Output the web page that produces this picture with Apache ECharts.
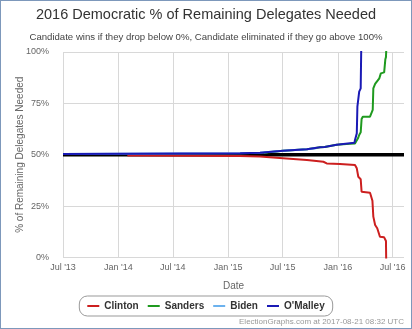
<!DOCTYPE html>
<html>
<head>
<meta charset="utf-8">
<script src="https://cdn.jsdelivr.net/npm/echarts@6/dist/echarts.min.js"></script>
<style>
html,body{margin:0;padding:0;background:#fff;}
#wrap{position:relative;width:412px;height:329px;}
#chart{position:absolute;left:0;top:0;width:412px;height:329px;}
#frame{position:absolute;left:0;top:0;width:410px;height:327px;border:1px solid #7d98bb;pointer-events:none;}
</style>
</head>
<body>
<div id="wrap"><div id="chart"></div><div id="frame"></div></div>
<script>
var titleText = '2016 Democratic % of Remaining Delegates Needed';
var subtitleText = 'Candidate wins if they drop below 0%, Candidate eliminated if they go above 100%';
var creditText = 'ElectionGraphs.com at 2017-08-21 08:32 UTC';
var seriesNames = ['Clinton', 'Sanders', 'Biden', "O'Malley"];

var xTickDates = ['2013-07-01','2014-01-01','2014-07-01','2015-01-01','2015-07-01','2016-01-01','2016-07-01'];
var xTickLabels = ["Jul '13","Jan '14","Jul '14","Jan '15","Jul '15","Jan '16","Jul '16"];
var xMinDate = '2013-07-01';
var xMaxDate = '2016-08-08';
var yTicks = [0, 25, 50, 75, 100];

var thresholdDates = ['2013-07-01','2016-08-08'];
var thresholdVals = [50, 50];

var clintonDates = ['2014-01-31','2015-02-10','2015-04-17','2015-07-03','2015-09-20','2015-11-14','2015-11-25','2016-01-08','2016-02-27','2016-03-04','2016-03-09','2016-03-17','2016-03-20','2016-04-17','2016-04-25','2016-04-28','2016-05-04','2016-05-11','2016-05-20','2016-06-03','2016-06-09','2016-06-11'];
var clintonVals = [49.6,49.4,49.1,48.3,47.4,46.6,45.8,45.5,45.0,43.4,39.3,38.1,32.0,31.5,27.6,19.9,15.8,14.2,10.1,9.8,8.0,-15];

var sandersDates = ['2015-04-30','2015-07-03','2015-09-20','2015-11-03','2015-11-18','2015-11-20','2015-12-28','2016-02-10','2016-02-27','2016-03-04','2016-03-08','2016-03-12','2016-03-17','2016-03-20','2016-03-24','2016-04-17','2016-04-23','2016-04-26','2016-04-28','2016-05-04','2016-05-09','2016-05-18','2016-05-23','2016-06-03','2016-06-07','2016-06-09','2016-06-14'];
var sandersVals = [51.0,52.0,52.7,53.6,53.8,54.7,54.9,55.3,55.5,56.4,58.0,59.6,60.9,67.4,68.5,68.5,69.3,71.8,82.3,84.5,85.5,87.2,89.6,90.1,96.5,97.5,115];

var bidenDates = ['2013-07-01','2015-02-10','2015-04-17','2015-07-03','2015-09-20','2015-10-21'];
var bidenVals = [50.4,50.7,51.0,52.0,52.7,53.2];

var omalleyDates = ['2013-07-01','2015-02-10','2015-04-17','2015-07-03','2015-09-20','2015-11-03','2015-11-18','2015-11-20','2015-12-28','2016-02-10','2016-02-25','2016-02-27','2016-03-04','2016-03-06','2016-03-12','2016-03-17','2016-03-20'];
var omalleyVals = [50.4,50.7,51.0,52.0,52.7,53.6,53.8,54.7,54.9,55.6,55.8,57.2,60.4,73.4,80.7,82.3,115];

var colors = {Clinton:'#cc1f1f', Sanders:'#1f9a1f', Biden:'#6cb2ee', "O'Malley":'#1a1ab5'};

function ts(s){ return new Date(s + 'T00:00:00').getTime(); }
function pairs(d, v){ return d.map(function(x, i){ return [ts(x), v[i]]; }); }
var tickTs = xTickDates.map(ts);

var FONT = 'Liberation Sans, Arial, sans-serif';
var chart = echarts.init(document.getElementById('chart'), null, {renderer:'canvas'});

function lineSeries(name, d, v){
  return {
    name: name, type: 'line', data: pairs(d, v), symbol: 'none', showSymbol: false,
    lineStyle: {color: colors[name], width: 2}, itemStyle: {color: colors[name]},
    animation: false, clip: true
  };
}

chart.setOption({
  animation: false,
  textStyle: {fontFamily: FONT},
  title: [
    {text: titleText, left: 'center', top: 2, textStyle: {fontFamily: FONT, fontSize: 14.5, fontWeight: 'normal', color: '#333'}},
    {text: subtitleText, left: 'center', top: 27, textStyle: {fontFamily: FONT, fontSize: 9.6, fontWeight: 'normal', color: '#444'}}
  ],
  grid: {left: 63, right: 8, top: 52, bottom: 71.5, containLabel: false},
  xAxis: {
    type: 'value', min: ts(xMinDate), max: ts(xMaxDate), scale: true,
    name: 'Date', nameLocation: 'middle', nameGap: 24, nameMoveOverlap: false,
    nameTextStyle: {fontFamily: FONT, fontSize: 10, color: '#666'},
    axisLine: {show: false},
    axisTick: {show: false, customValues: tickTs},
    axisLabel: {customValues: tickTs, fontFamily: FONT, fontSize: 9, color: '#666', margin: 6, showMinLabel: true, showMaxLabel: true,
      formatter: function(val){ var i = tickTs.indexOf(val); return i >= 0 ? xTickLabels[i] : ''; }},
    splitLine: {show: true, lineStyle: {color: '#d8d8d8', width: 1}}
  },
  yAxis: {
    type: 'value', min: yTicks[0], max: yTicks[yTicks.length-1], interval: 25,
    name: '% of Remaining Delegates Needed', nameLocation: 'middle', nameGap: 38, nameMoveOverlap: false,
    nameTextStyle: {fontFamily: FONT, fontSize: 10, color: '#666'},
    axisLine: {show: false}, axisTick: {show: false},
    axisLabel: {fontFamily: FONT, fontSize: 9, color: '#666', margin: 14, formatter: '{value}%'},
    splitLine: {show: true, lineStyle: {color: '#d8d8d8', width: 1}}
  },
  legend: {
    data: seriesNames, left: 'center', top: 296,
    borderColor: '#999', borderWidth: 1, borderRadius: 8, padding: [5, 8, 5, 8],
    icon: 'rect', itemGap: 9, itemWidth: 12, itemHeight: 2,
    textStyle: {fontFamily: FONT, fontSize: 10, fontWeight: 'bold', color: '#333'}
  },
  graphic: [{
    type: 'text', right: 8, bottom: 3,
    style: {text: creditText, fontFamily: FONT, fontSize: 8, fill: '#999'}
  }],
  series: [
    {name: 'threshold', type: 'line', data: pairs(thresholdDates, thresholdVals), symbol: 'none',
     lineStyle: {color: '#000', width: 3.5}, silent: true, animation: false},
    lineSeries('Clinton', clintonDates, clintonVals),
    lineSeries('Sanders', sandersDates, sandersVals),
    lineSeries('Biden', bidenDates, bidenVals),
    lineSeries("O'Malley", omalleyDates, omalleyVals)
  ]
});
</script>
</body>
</html>
